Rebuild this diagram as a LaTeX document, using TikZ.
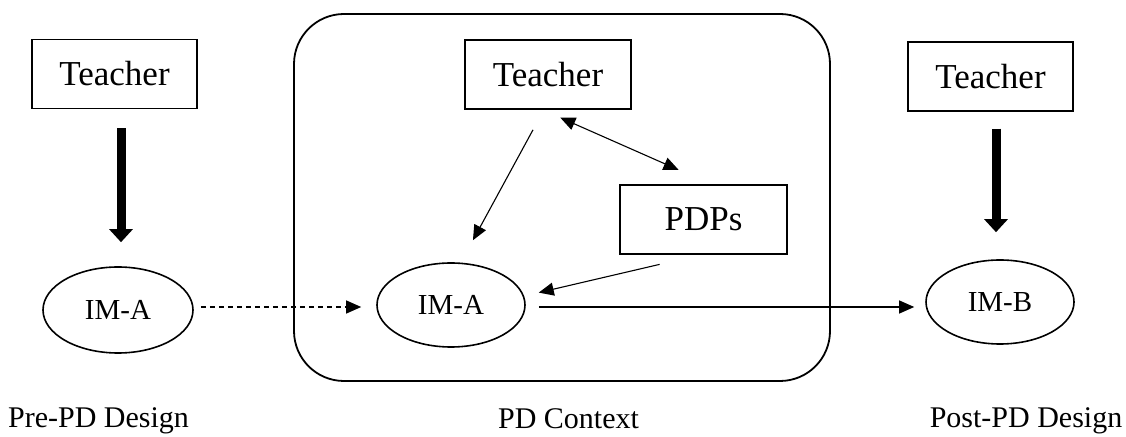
\documentclass[tikz,border=0pt]{standalone}
\usepackage{fontspec}
\setmainfont{Liberation Serif}
\usetikzlibrary{arrows.meta,shapes.geometric}
\begin{document}
\begin{tikzpicture}[x=1pt,y=1pt,
  box/.style={draw,line width=1.2pt,rectangle,inner sep=0pt,minimum width=165pt,minimum height=69pt,font=\fontsize{35}{40}\selectfont},
  oval/.style={draw,line width=1.6pt,ellipse,inner sep=0pt,minimum width=148pt,minimum height=84pt,font=\fontsize{29}{34}\selectfont},
  lbl/.style={anchor=base,inner sep=0pt,font=\fontsize{30}{35}\selectfont},
  arr/.style={line width=1.1pt,-{Triangle[length=15pt,width=13pt]}},
  darr/.style={line width=1.1pt,{Triangle[length=15pt,width=13pt]}-{Triangle[length=15pt,width=13pt]}},
  bigarr/.style={line width=9pt,-{Triangle[length=13pt,width=23pt]}}]
\useasboundingbox (0,0) rectangle (1126,436);
% context frame
\node[draw,line width=1.8pt,rounded corners=50pt,minimum width=536pt,minimum height=367pt,inner sep=0pt] (ctx) at (562,238.5) {};
% nodes
\node[box] (t1) at (114.5,362) {Teacher};
\node[box,minimum width=166pt] (t2) at (548,361.5) {Teacher};
\node[box] (t3) at (990.5,359.5) {Teacher};
\node[box,minimum width=167pt] (pdp) at (703.5,216.5) {PDPs};
\node[oval,minimum width=150pt,minimum height=86pt] (ima1) at (118,126) {IM-A};
\node[oval] (ima2) at (451,131) {IM-A};
\node[oval] (imb) at (1000,134) {IM-B};
% labels
\node[lbl] (lpre) at (98.5,9) {Pre-PD Design};
\node[lbl] (lctx) at (568.5,7.5) {PD Context};
\node[lbl] (lpost) at (1026,9) {Post-PD Design};
% connectors
\draw[bigarr,shorten <=19pt,shorten >=24pt] ([xshift=6.5pt]t1.south) -- ([xshift=6.5pt]t1.south |- ima1.north);
\draw[bigarr,shorten <=17pt,shorten >=27pt] ([xshift=5.5pt]t3.south) -- ([xshift=5.5pt]t3.south |- imb.north);
\draw[arr,dashed,dash pattern=on 5pt off 4pt,shorten <=7pt,shorten >=15pt] ([yshift=3pt]ima1.east) -- ([yshift=-2pt]ima2.west);
\draw[arr,shorten <=23pt,shorten >=25pt] ([xshift=-4pt]t2.south) -- ([xshift=10pt]ima2.north);
\draw[darr,shorten <=20pt,shorten >=36pt] ([xshift=-6pt]t2.south) -- ([xshift=8pt]pdp.north);
\draw[arr,shorten <=43pt,shorten >=15pt] ([xshift=-2pt]pdp.south) -- (ima2.7);
\draw[arr,shorten <=13pt,shorten >=11pt] ([yshift=-2pt]ima2.east) -- ([yshift=-5pt]imb.west);
\end{tikzpicture}
\end{document}
